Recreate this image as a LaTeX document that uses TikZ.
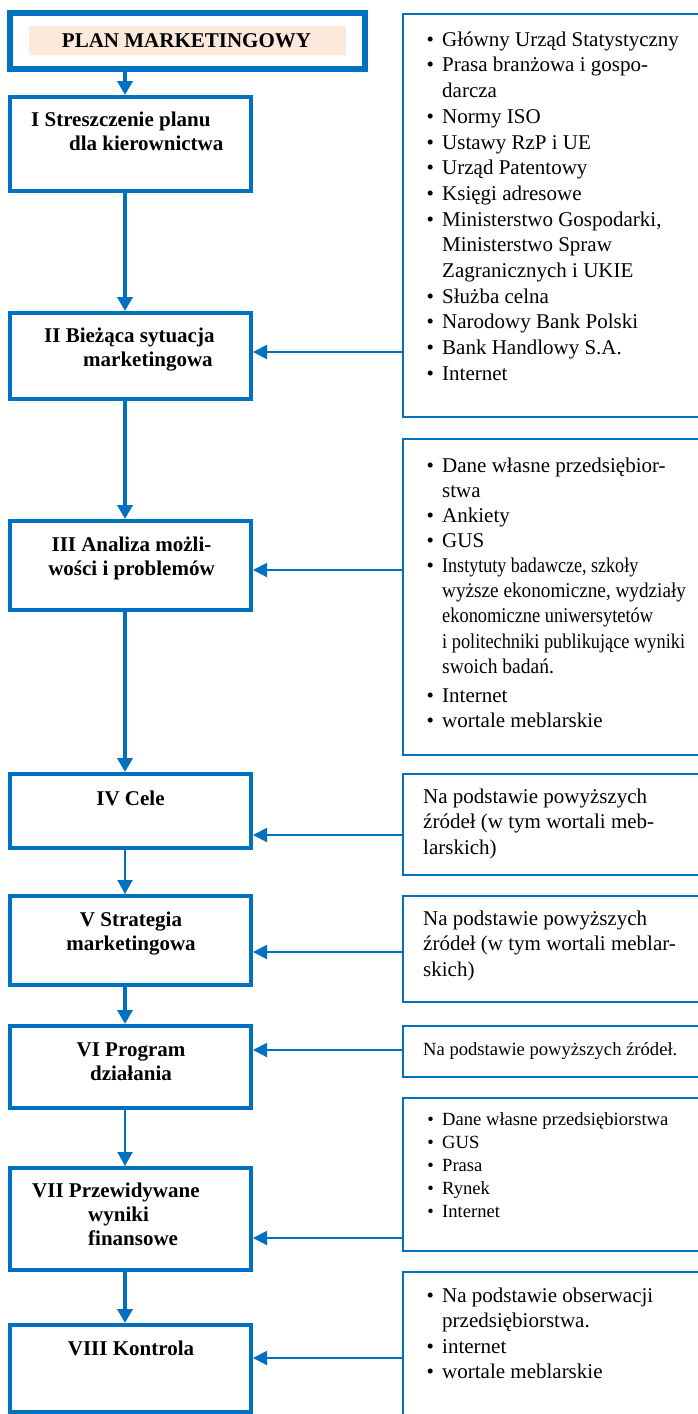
\documentclass[tikz,border=0pt]{standalone}
\usepackage{fontspec}
\usepackage{graphicx}
\setmainfont{Liberation Serif}
\usetikzlibrary{arrows.meta}
\definecolor{mblue}{HTML}{0070C0}
\definecolor{peach}{HTML}{FCE9DB}
% bullet hanging to the left of the item text
\newcommand\bul{\makebox[0pt][r]{\textbullet\hspace{8.3pt}}}
% fixed height of the first line, so that a node's top lies 20pt above its first baseline
\newcommand\fst{\rule{0pt}{20pt}}
% horizontally condensed line of text
\newcommand\cnd[2]{\scalebox{#1}[1]{#2}}
\tikzset{
  titlebox/.style={draw=mblue, line width=6pt, anchor=north west, minimum width=355pt, minimum height=56pt},
  lbox/.style={draw=mblue, line width=4pt, anchor=north west, minimum width=241pt},
  rbox/.style={draw=mblue, line width=2pt, anchor=north west, minimum width=330pt},
  ltext/.style={inner sep=0pt, font=\fontsize{21}{24}\selectfont\bfseries, align=left, anchor=north west},
  ctext/.style={inner sep=0pt, font=\fontsize{21}{24.5}\selectfont\bfseries, align=center, anchor=north},
  btext/.style={inner sep=0pt, font=\fontsize{21}{24}\selectfont\bfseries, anchor=base},
  rtext/.style={inner sep=0pt, font=\fontsize{21}{25.7}\selectfont, align=left, anchor=north west},
  stext/.style={inner sep=0pt, font=\fontsize{18.6}{23}\selectfont, align=left, anchor=north west},
  thickarrow/.style={draw=mblue, line width=4.5pt, -{Triangle[length=14pt,width=15pt]}},
  thinarrow/.style={draw=mblue, line width=2.2pt, -{Triangle[length=14pt,width=15pt]}},
  harrow/.style={draw=mblue, line width=2pt, -{Triangle[length=14pt,width=14pt]}},
}
\begin{document}
\begin{tikzpicture}[x=1pt,y=-1pt]
\useasboundingbox (0,0) rectangle (698,1414);
\clip (0,0) rectangle (698,1414);

% ---- title ----
\node[titlebox] (T) at (7,10) {};
\node[fill=peach, inner sep=0pt, anchor=north west, minimum width=317pt, minimum height=29pt] (Tfill) at (29,26) {};
\node[btext] (Ttxt) at (186.5,47) {PLAN MARKETINGOWY};

% ---- plan stages (left column) ----
\node[lbox, minimum height=94pt]  (S1) at (8,95) {};
\node[lbox, minimum height=86pt]  (S2) at (8,311) {};
\node[lbox, minimum height=89pt]  (S3) at (8,519) {};
\node[lbox, minimum height=74pt]  (S4) at (8,772) {};
\node[lbox, minimum height=89pt]  (S5) at (8,894) {};
\node[lbox, minimum height=82pt]  (S6) at (8,1024) {};
\node[lbox, minimum height=102pt] (S7) at (8,1166) {};
\node[lbox, minimum height=87pt]  (S8) at (8,1323) {};

\node[ltext] (S1t) at (31,106) {\fst I Streszczenie planu\\\hspace*{38pt}dla kierownictwa};
\node[ltext] (S2t) at (44,322) {\fst II Bieżąca sytuacja\\\hspace*{39pt}marketingowa};
\node[ctext] (S3t) at (131.5,531) {\fst III Analiza możli-\\wości i problemów};
\node[btext] (S4t) at (130.5,805) {IV Cele};
\node[ctext] (S5t) at (131,906) {\fst V Strategia\\marketingowa};
\node[ctext] (S6t) at (131,1036) {\fst VI Program\\działania};
\node[ltext] (S7t) at (32,1177) {\fst VII Przewidywane\\\hspace*{56pt}wyniki\\\hspace*{56pt}finansowe};
\node[btext] (S8t) at (131,1355) {VIII Kontrola};

% ---- sources (right column) ----
\node[rbox, minimum height=403pt] (R1) at (402,13) {};
\node[rbox, minimum height=316pt] (R2) at (402,438) {};
\node[rbox, minimum height=101pt] (R3) at (402,773) {};
\node[rbox, minimum height=106pt] (R4) at (402,895) {};
\node[rbox, minimum height=51pt]  (R5) at (402,1025) {};
\node[rbox, minimum height=153pt] (R6) at (402,1097) {};
\node[rbox, minimum height=198pt] (R7) at (402,1271) {};

\node[rtext] (R1t) at (442,26) {\fst\bul Główny Urząd Statystyczny\\
\bul Prasa branżowa i gospo-\\
darcza\\
\bul Normy ISO\\
\bul Ustawy RzP i UE\\
\bul Urząd Patentowy\\
\bul Księgi adresowe\\
\bul Ministerstwo Gospodarki,\\
Ministerstwo Spraw\\
Zagranicznych i UKIE\\
\bul Służba celna\\
\bul Narodowy Bank Polski\\
\bul Bank Handlowy S.A.\\
\bul Internet};

\node[rtext, font=\fontsize{21}{25}\selectfont] (R2t) at (442,452) {\fst\bul Dane własne przedsiębior-\\
stwa\\
\bul Ankiety\\
\bul GUS\\
\bul\cnd{0.86}{Instytuty badawcze, szkoły}\\
\cnd{0.915}{wyższe ekonomiczne, wydziały}\\
\cnd{0.876}{ekonomiczne uniwersytetów}\\[1pt]
\cnd{0.873}{i politechniki publikujące wyniki}\\
\cnd{0.93}{swoich badań.}\\[4pt]
\bul Internet\\
\bul wortale meblarskie};

\node[rtext] (R3t) at (423,783) {\fst Na podstawie powyższych\\źródeł (w tym wortali meb-\\larskich)};
\node[rtext] (R4t) at (423,905) {\fst Na podstawie powyższych\\źródeł (w tym wortali meblar-\\skich)};
\node[inner sep=0pt, font=\fontsize{18.6}{23}\selectfont, anchor=base west] (R5t) at (423,1055) {Na podstawie powyższych źródeł.};
\node[stext] (R6t) at (442,1105) {\fst\bul Dane własne przedsiębiorstwa\\
\bul GUS\\
\bul Prasa\\
\bul Rynek\\
\bul Internet};
\node[rtext, font=\fontsize{21}{25.5}\selectfont] (R7t) at (442,1282) {\fst\bul Na podstawie obserwacji\\
przedsiębiorstwa.\\
\bul internet\\
\bul wortale meblarskie};

% ---- flow down the stages ----
\coordinate (ax) at (125,0);
\draw[thickarrow] (ax |- T.south)  -- (ax |- S1.north);
\draw[thickarrow] (ax |- S1.south) -- (ax |- S2.north);
\draw[thickarrow] (ax |- S2.south) -- (ax |- S3.north);
\draw[thickarrow] (ax |- S3.south) -- (ax |- S4.north);
\draw[thinarrow]  (ax |- S4.south) -- (ax |- S5.north);
\draw[thickarrow] (ax |- S5.south) -- (ax |- S6.north);
\draw[thinarrow]  (ax |- S6.south) -- (ax |- S7.north);
\draw[thickarrow] (ax |- S7.south) -- (ax |- S8.north);

% ---- sources feeding the stages ----
\coordinate (h2) at (0,352);
\coordinate (h3) at (0,570);
\coordinate (h4) at (0,835);
\coordinate (h5) at (0,952);
\coordinate (h6) at (0,1050);
\coordinate (h7) at (0,1238);
\coordinate (h8) at (0,1358);
\draw[harrow] (R1.west |- h2) -- (S2.east |- h2);
\draw[harrow] (R2.west |- h3) -- (S3.east |- h3);
\draw[harrow] (R3.west |- h4) -- (S4.east |- h4);
\draw[harrow] (R4.west |- h5) -- (S5.east |- h5);
\draw[harrow] (R5.west |- h6) -- (S6.east |- h6);
\draw[harrow] (R6.west |- h7) -- (S7.east |- h7);
\draw[harrow] (R7.west |- h8) -- (S8.east |- h8);
\end{tikzpicture}
\end{document}
